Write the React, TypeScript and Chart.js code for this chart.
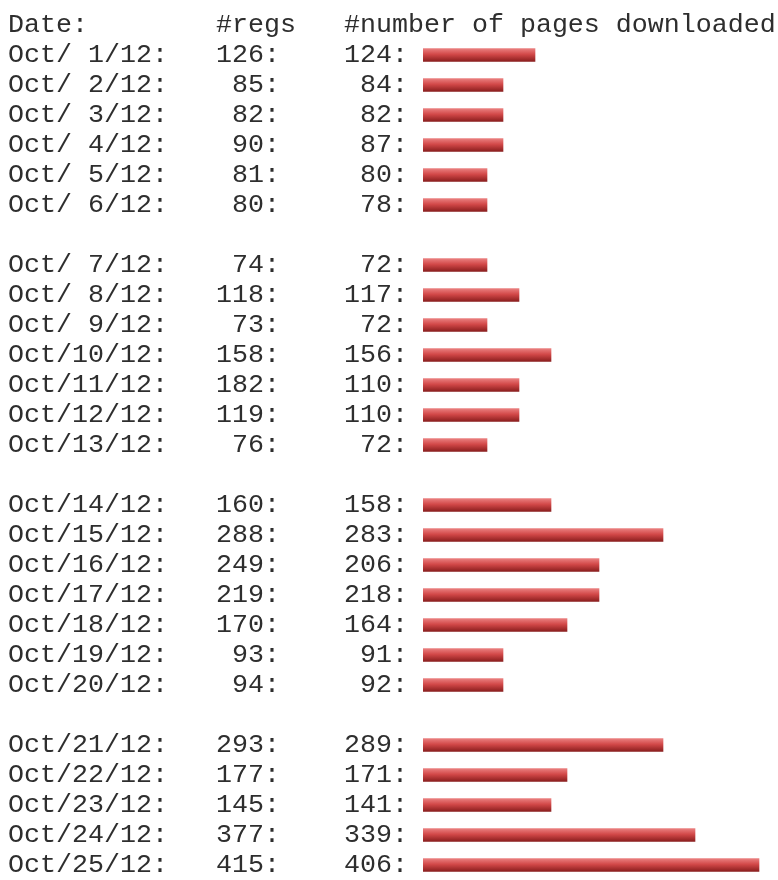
import React, { useEffect, useRef } from "react";
import { Chart, registerables } from "chart.js";

Chart.register(...registerables);

// Rows: day of October 2012, registrations, pages downloaded, bar length (in 16px blocks as drawn)
const week1Days = [1, 2, 3, 4, 5, 6];
const week1Regs = [126, 85, 82, 90, 81, 80];
const week1Pages = [124, 84, 82, 87, 80, 78];
const week1Blocks = [7, 5, 5, 5, 4, 4];

const week2Days = [7, 8, 9, 10, 11, 12, 13];
const week2Regs = [74, 118, 73, 158, 182, 119, 76];
const week2Pages = [72, 117, 72, 156, 110, 110, 72];
const week2Blocks = [4, 6, 4, 8, 6, 6, 4];

const week3Days = [14, 15, 16, 17, 18, 19, 20];
const week3Regs = [160, 288, 249, 219, 170, 93, 94];
const week3Pages = [158, 283, 206, 218, 164, 91, 92];
const week3Blocks = [8, 15, 11, 11, 9, 5, 5];

const week4Days = [21, 22, 23, 24, 25];
const week4Regs = [293, 177, 145, 377, 415];
const week4Pages = [289, 171, 141, 339, 406];
const week4Blocks = [15, 9, 8, 17, 21];

const headerLabel = "Date:        #regs   #number of pages downloaded";

const weeks = [
  { days: week1Days, regs: week1Regs, pages: week1Pages, blocks: week1Blocks },
  { days: week2Days, regs: week2Regs, pages: week2Pages, blocks: week2Blocks },
  { days: week3Days, regs: week3Regs, pages: week3Pages, blocks: week3Blocks },
  { days: week4Days, regs: week4Regs, pages: week4Pages, blocks: week4Blocks },
];

const pad = (v: number, n: number) => String(v).padStart(n, " ");

const labels: string[] = [headerLabel];
const barData: (number | null)[] = [null];
weeks.forEach((w, wi) => {
  if (wi > 0) {
    labels.push("");
    barData.push(null);
  }
  w.days.forEach((d, i) => {
    labels.push(
      `Oct/${pad(d, 2)}/12:   ${pad(w.regs[i], 3)}:    ${pad(w.pages[i], 3)}:`
    );
    barData.push(w.blocks[i]);
  });
});

const BLOCK_PX = 16;
const LEFT_EDGE = 423;
const WIDTH = 778;
const HEIGHT = 880;
const FONT = "26.67px 'Liberation Mono', 'Courier New', monospace";

const rowTextPlugin = {
  id: "rowText",
  afterDatasetsDraw(chart: any) {
    const ys = chart.scales.y;
    const ctx = chart.ctx;
    ctx.save();
    ctx.font = FONT;
    ctx.fillStyle = "#2e2e2e";
    ctx.textAlign = "left";
    ctx.textBaseline = "alphabetic";
    (chart.data.labels as string[]).forEach((lab, i) => {
      if (!lab) return;
      const y = ys.getPixelForValue(i);
      ctx.fillText(lab, 8, y + 7);
    });
    ctx.restore();
  },
};

export default function App() {
  const ref = useRef<HTMLCanvasElement | null>(null);

  useEffect(() => {
    if (!ref.current) return;
    const chart = new Chart(ref.current, {
      type: "bar",
      data: {
        labels,
        datasets: [
          {
            data: barData,
            barThickness: 13,
            borderWidth: 0,
            backgroundColor: (c: any) => {
              const ch = c.chart;
              const ys = ch.scales && ch.scales.y;
              if (!ys || c.dataIndex === undefined) return "#c83a3a";
              const yc = ys.getPixelForValue(c.dataIndex);
              if (!isFinite(yc)) return "#c83a3a";
              const g = ch.ctx.createLinearGradient(0, yc - 6.5, 0, yc + 6.5);
              g.addColorStop(0, "#ea8080");
              g.addColorStop(0.45, "#d24848");
              g.addColorStop(1, "#8a1e1e");
              return g;
            },
          },
        ],
      },
      options: {
        indexAxis: "y",
        animation: false,
        responsive: false,
        events: [],
        layout: { padding: { left: LEFT_EDGE, top: 10, right: 0, bottom: 0 } },
        plugins: {
          legend: { display: false },
          tooltip: { enabled: false },
          title: { display: false },
        },
        scales: {
          x: {
            display: false,
            min: 0,
            max: (WIDTH - LEFT_EDGE) / BLOCK_PX,
          },
          y: {
            display: false,
            offset: true,
          },
        },
      },
      plugins: [rowTextPlugin],
    });
    return () => chart.destroy();
  }, []);

  return (
    <div style={{ position: "fixed", left: 0, top: 0, width: WIDTH, height: HEIGHT, background: "#fff" }}>
      <canvas ref={ref} width={WIDTH} height={HEIGHT} style={{ width: WIDTH, height: HEIGHT, display: "block" }} />
    </div>
  );
}
